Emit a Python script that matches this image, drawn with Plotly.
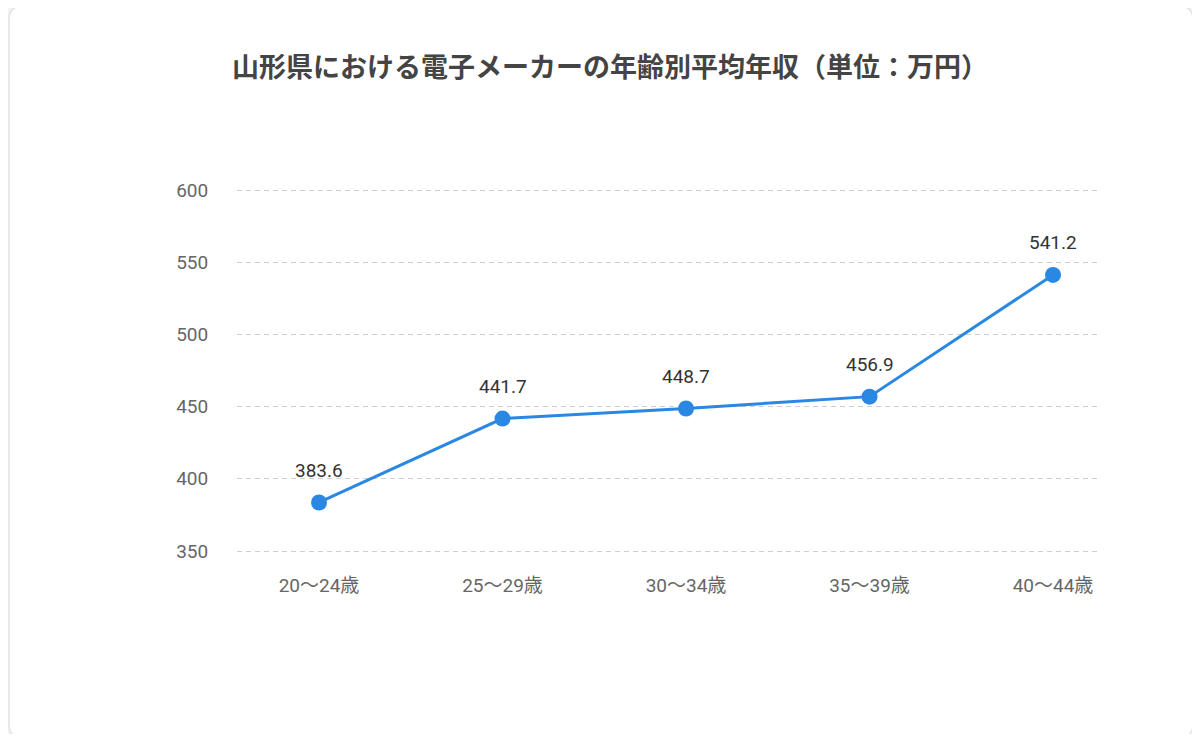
import plotly.graph_objects as go

# data
age_groups = ["20～24歳", "25～29歳", "30～34歳", "35～39歳", "40～44歳"]
avg_income = [383.6, 441.7, 448.7, 456.9, 541.2]
y_ticks = [350, 400, 450, 500, 550, 600]

title = "山形県における電子メーカーの年齢別平均年収（単位：万円）"
font_family = "Roboto, Noto Sans CJK JP, sans-serif"

# page body has an 8px margin, so the figure is drawn 8px smaller and shifted
OFF = 8
PAD = 2  # extra px above/below so the 350 and 600 grid lines are not clipped
W, H = 1200 - 2 * OFF, 742 - 2 * OFF
L, R, T, B = 237 - OFF, 100 - OFF, 190 - OFF - PAD, 191 - OFF - PAD
pw, ph = W - L - R, H - T - B
ypad = PAD * 250 / 361


def px_x(p):
    return (p - OFF - L) / pw


def px_y(p):
    return (H - B - (p - OFF)) / ph


# rounded card behind the chart
x0, x1, y0, y1, r = 9, 1193, 6, 738, 14
rx, ry = r / pw, r / ph
card = (
    f"M {px_x(x0)+rx},{px_y(y0)} L {px_x(x1)-rx},{px_y(y0)} "
    f"Q {px_x(x1)},{px_y(y0)} {px_x(x1)},{px_y(y0)-ry} "
    f"L {px_x(x1)},{px_y(y1)+ry} Q {px_x(x1)},{px_y(y1)} {px_x(x1)-rx},{px_y(y1)} "
    f"L {px_x(x0)+rx},{px_y(y1)} Q {px_x(x0)},{px_y(y1)} {px_x(x0)},{px_y(y1)+ry} "
    f"L {px_x(x0)},{px_y(y0)-ry} Q {px_x(x0)},{px_y(y0)} {px_x(x0)+rx},{px_y(y0)} Z"
)

fig = go.Figure()
fig.add_trace(go.Scatter(
    x=age_groups, y=avg_income, mode="lines+markers",
    line=dict(color="#2a88e3", width=3),
    marker=dict(size=16, color="#2a88e3"),
    hoverinfo="x+y", showlegend=False,
))

# value labels above the points
for a, v in zip(age_groups, avg_income):
    fig.add_annotation(x=a, y=v, text=f"{v:.1f}", showarrow=False,
                       yshift=32, font=dict(size=19, color="#333333", family=font_family))

fig.update_layout(
    width=W, height=H,
    margin=dict(l=L, r=R, t=T, b=B),
    paper_bgcolor="#f4f4f4", plot_bgcolor="rgba(0,0,0,0)",
    font=dict(family=font_family),
    title=dict(text=f"<b>{title}</b>", x=(232 - OFF) / W, xanchor="left",
               y=1 - (68 - OFF) / H, yanchor="middle",
               font=dict(size=27, color="#444444", family="Noto Sans CJK JP")),
    shapes=[dict(type="path", path=card, xref="paper", yref="paper",
                 fillcolor="white", line=dict(color="#e4e4e4", width=1.5), layer="below")],
)
fig.update_xaxes(range=[-0.447, 4.256], showgrid=False, zeroline=False, showline=False,
                 ticks="outside", ticklen=15, tickcolor="rgba(0,0,0,0)",
                 tickfont=dict(size=19, color="#666666"))
fig.update_yaxes(range=[350 - ypad, 600 + ypad], tickvals=y_ticks, showgrid=True,
                 gridcolor="#cfcfcf", griddash="5px,4px", gridwidth=1.3,
                 zeroline=False, showline=False,
                 ticks="outside", ticklen=24, tickcolor="rgba(0,0,0,0)",
                 tickfont=dict(size=19, color="#666666"))

fig.write_html("out.html")
